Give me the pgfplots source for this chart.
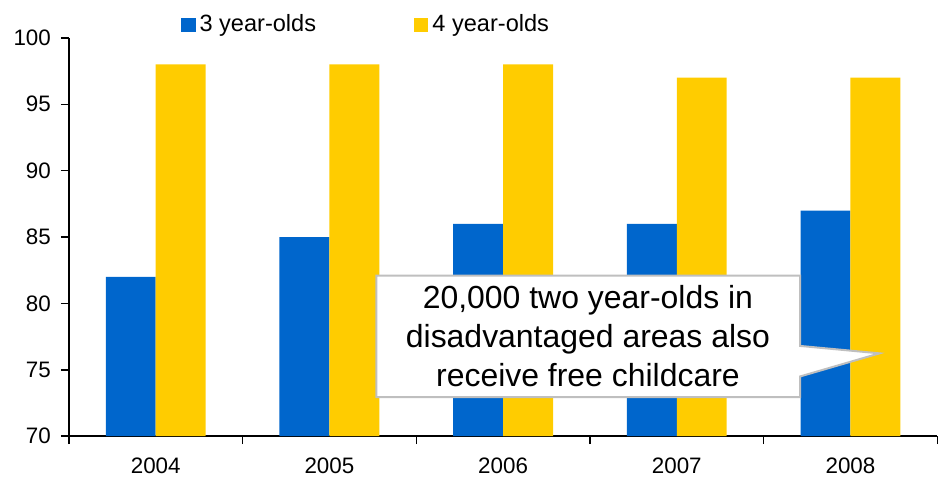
\documentclass[border=0pt]{standalone}
\usepackage{pgfplots}
\pgfplotsset{compat=1.18}
\usepackage{fontspec}
\setmainfont{Liberation Sans}
\definecolor{cblue}{HTML}{0066CC}
\definecolor{cyellow}{HTML}{FFCC00}
\definecolor{cgray}{HTML}{BFBFBF}
\begin{document}
\begin{tikzpicture}
\begin{axis}[
  scale only axis, width=435bp, height=199.5bp,
  xmin=-0.5, xmax=4.5, ymin=70, ymax=100,
  ytick={70,75,...,100},
  xtick={0,...,4}, xticklabels={2004,2005,2006,2007,2008},
  minor xtick={-0.5,0.5,...,4.5},
  axis x line=bottom, axis y line=left,
  axis line style={-, line width=0.7bp, black},
  tick align=outside,
  major tick length=4bp, minor tick length=4bp,
  tick style={black, line width=0.7bp},
  major x tick style={draw=none},
  ybar=0pt, bar width=25bp,
  ticklabel style={font=\fontsize{11.2bp}{13bp}\selectfont},
  xticklabel style={yshift=-3.5bp},
  yticklabel style={xshift=-1.5bp},
  /pgf/number format/assume math mode=true,
  clip=false,
  legend style={at={(rel axis cs:0.1287,1.0326)}, anchor=west, draw=none, fill=none,
    inner sep=0pt, font=\fontsize{11.8bp}{14bp}\selectfont,
    /tikz/every even column/.append style={column sep=47bp}},
  legend columns=2,
]
\path (rel axis cs:-0.0793,-0.1053) rectangle (rel axis cs:0.99885,1.0952);
\addplot[fill=cblue, draw=none, legend image code/.code={\fill[cblue] (0bp,-3.6bp) rectangle (7.3bp,3.6bp);}]
  coordinates {(0,82)(1,85)(2,86)(3,86)(4,87)};
\addplot[fill=cyellow, draw=none, legend image code/.code={\fill[cyellow] (0bp,-3.6bp) rectangle (7.3bp,3.6bp);}]
  coordinates {(0,98)(1,98)(2,98)(3,97)(4,97)};
\legend{3 year-olds, 4 year-olds}
\draw[cgray, fill=white, line width=1bp] (axis cs:1.270,82.10) -- (axis cs:3.710,82.10) -- (axis cs:3.710,76.80) -- (axis cs:4.167,76.24) -- (axis cs:3.710,74.50) -- (axis cs:3.710,72.95) -- (axis cs:1.270,72.95) -- cycle;
\node[align=center, font=\fontsize{16bp}{19.5bp}\selectfont, text=black] at (axis cs:2.4885,77.57) {20,000 two year-olds in\\disadvantaged areas also\\receive free childcare};
\end{axis}
\end{tikzpicture}
\end{document}
